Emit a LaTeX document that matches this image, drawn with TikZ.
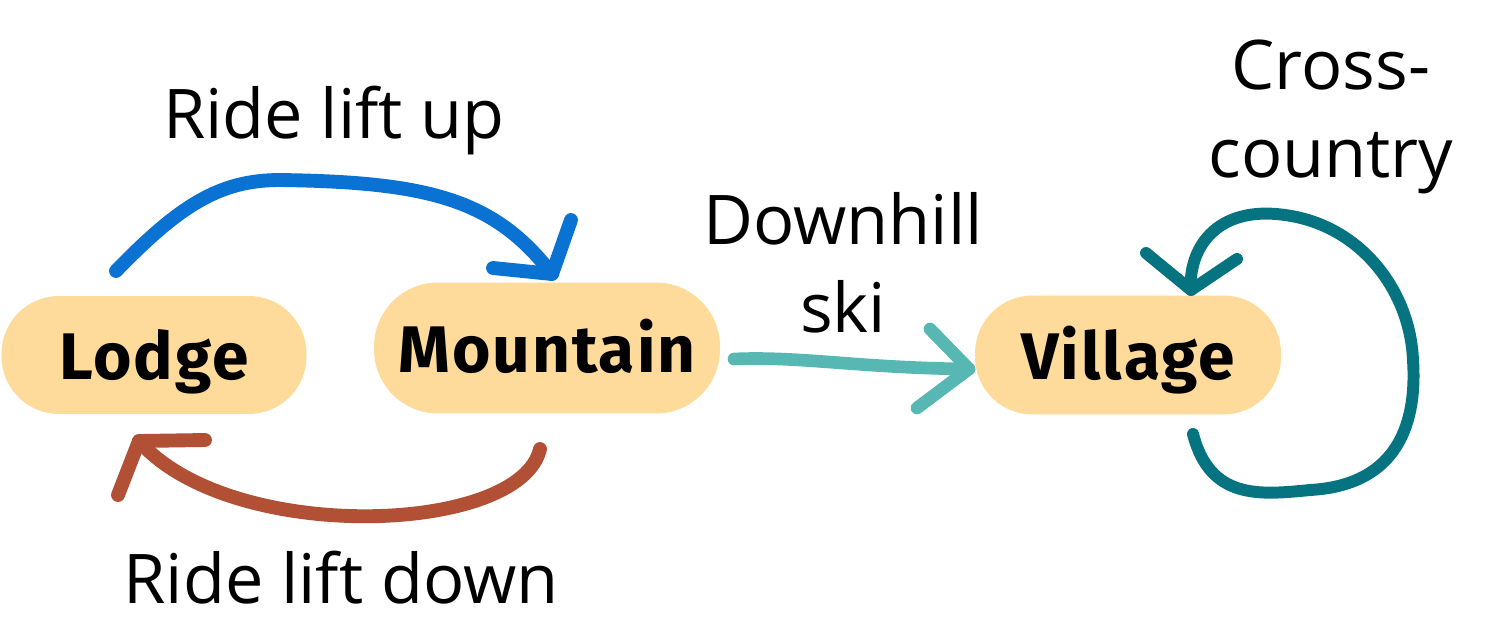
\documentclass[tikz,border=0pt]{standalone}
\usepackage{fontspec}
\setmainfont{Open Sans}
\newfontfamily\boxfont[LetterSpace=3]{Fira Sans}
\definecolor{peach}{HTML}{FEDB9B}
\definecolor{liftup}{HTML}{0A72D3}
\definecolor{liftdown}{HTML}{B15035}
\definecolor{skiteal}{HTML}{57B8B3}
\definecolor{loopteal}{HTML}{067480}
\begin{document}
\begin{tikzpicture}[x=0.02cm,y=-0.02cm,
  place/.style={fill=peach, draw=none, text=black, inner sep=0pt,
    font=\boxfont\bfseries\fontsize{37.5}{44}\selectfont,
    text height=36pt, text depth=7.6pt},
  lbl/.style={font=\fontsize{39}{50}\selectfont, align=center, inner sep=0pt, anchor=base},
  stroke/.style={line width=7.9pt, line cap=round, line join=round}]
\useasboundingbox (0,0) rectangle (1487,636);
\node[place, minimum width=6.1cm, minimum height=2.36cm, rounded corners=1.15cm] (lodge) at (154,355) {Lodge};
\node[place, minimum width=6.92cm, minimum height=2.62cm, rounded corners=1.28cm] (mountain) at (547,348) {Mountain};
\node[place, minimum width=6.12cm, minimum height=2.38cm, rounded corners=1.15cm] (village) at (1128,355) {Village};
% labels (base = baseline of the last line)
\node[lbl] (lup) at (334,138) {Ride lift up};
\node[lbl] (ldown) at (341,603) {Ride lift down};
\node[lbl] (lski) at (843,332) {Downhill\\ski};
\node[lbl] (lcross) at (1331,177) {Cross-\\country};
% blue: Lodge -> Mountain
\coordinate (b0) at (116,271);
\coordinate (b1) at (552,274);
\coordinate (ba) at (571,220);
\coordinate (bb) at (493,268);
\draw[stroke, liftup] (b0) .. controls (180,205) and (220,180) .. (280,180)
  .. controls (430,182) and (495,200) .. (b1);
\draw[stroke, liftup] (ba) -- (b1) -- (bb);
% brown: Mountain -> Lodge
\coordinate (r0) at (540,449);
\coordinate (r1) at (139,441);
\coordinate (ra) at (205,440);
\coordinate (rb) at (118,495);
\draw[stroke, liftdown] (r0) .. controls (520,535) and (230,545) .. (r1);
\draw[stroke, liftdown] (ra) -- (r1) -- (rb);
% teal: Mountain -> Village
\coordinate (s0) at (734,359);
\coordinate (s1) at (969,369);
\coordinate (sa) at (930,329);
\coordinate (sb) at (917,408);
\draw[stroke, line width=7.2pt, skiteal] (s0) .. controls (800,356) and (860,368) .. (s1);
\draw[stroke, line width=7.2pt, skiteal] (sa) -- (s1) -- (sb);
% loop: Village -> Village
\coordinate (v0) at (1193,434);
\coordinate (v1) at (1191,290);
\coordinate (va) at (1146,253);
\coordinate (vb) at (1237,259);
\draw[stroke, line width=6.8pt, loopteal] (v0) .. controls (1210,500) and (1260,495) .. (1310,490)
  .. controls (1400,485) and (1417,420) .. (1413,360)
  .. controls (1410,290) and (1360,225) .. (1285,215)
  .. controls (1215,205) and (1188,250) .. (v1);
\draw[stroke, line width=6.8pt, loopteal] (va) -- (v1) -- (vb);
\end{tikzpicture}
\end{document}
